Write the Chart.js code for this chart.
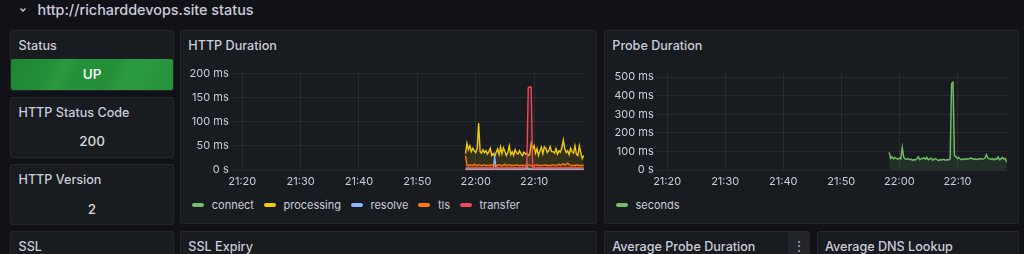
<!DOCTYPE html>
<html><head><meta charset="utf-8">
<script src="https://cdn.jsdelivr.net/npm/chart.js@4.4.1/dist/chart.umd.min.js"></script>
<style>
html,body{margin:0;padding:0;background:#111217;width:1024px;height:254px;overflow:hidden;font-family:Inter,"Open Sans",sans-serif;color:#ccccdc;}
.p{position:absolute;background:#181b1f;border:1px solid #25272c;border-radius:2px;box-sizing:border-box;}
.t{position:absolute;font-size:12.6px;font-weight:500;line-height:16px;white-space:nowrap;color:#ccccdc;}
.v{position:absolute;font-size:13.5px;font-weight:500;line-height:18px;text-align:center;white-space:nowrap;color:#d8d9da;}
canvas{position:absolute;}
.lg{position:absolute;display:flex;align-items:center;height:14px;font-size:11px;color:#ccccdc;white-space:nowrap;}
.lg span.m{display:inline-block;width:12px;height:4px;border-radius:2px;margin-right:7.5px;}
.lg span.x{margin-right:10px;}
</style></head>
<body>
<!-- header -->
<svg style="position:absolute;left:19px;top:6px" width="8" height="8"><polyline points="1.5,2.5 4,5 6.5,2.5" fill="none" stroke="#ccccdc" stroke-width="1.3"/></svg>
<div class="t" style="left:37.5px;top:-0.2px;font-size:14.4px;line-height:20px;">http://richarddevops.site status</div>

<!-- left column -->
<div class="p" style="left:10px;top:30px;width:164px;height:61px;"></div>
<div class="t" style="left:18.5px;top:37.7px;">Status</div>
<div style="position:absolute;left:11px;top:59px;width:162px;height:30.5px;border-radius:2px;background:linear-gradient(115deg,#1e8532 0%,#23903a 25%,#2a9a40 32%,#23903a 40%,#248f38 60%,#2b9b41 70%,#25923a 100%);"></div>
<div class="v" style="left:11px;top:64.5px;width:162px;color:#ffffff;">UP</div>

<div class="p" style="left:10px;top:97px;width:164px;height:61px;"></div>
<div class="t" style="left:18.5px;top:104.7px;">HTTP Status Code</div>
<div class="v" style="left:11px;top:131.8px;width:162px;">200</div>

<div class="p" style="left:10px;top:164px;width:164px;height:61px;"></div>
<div class="t" style="left:18.5px;top:171.7px;">HTTP Version</div>
<div class="v" style="left:11px;top:199.5px;width:162px;">2</div>

<div class="p" style="left:10px;top:231px;width:164px;height:40px;"></div>
<div class="t" style="left:18.5px;top:238.7px;">SSL</div>

<!-- HTTP Duration -->
<div class="p" style="left:180px;top:30px;width:417px;height:194px;"></div>
<div class="t" style="left:188.3px;top:37.7px;">HTTP Duration</div>
<canvas id="c1" width="410" height="134" style="left:181px;top:58px;width:410px;height:134px;"></canvas>
<div class="lg" style="left:192.3px;top:197.5px;">
 <span class="m" style="background:#73BF69"></span><span class="x">connect</span>
 <span class="m" style="background:#F2CC0C"></span><span class="x">processing</span>
 <span class="m" style="background:#8AB8FF"></span><span class="x">resolve</span>
 <span class="m" style="background:#FF780A"></span><span class="x">tls</span>
 <span class="m" style="background:#F2495C"></span><span class="x">transfer</span>
</div>

<!-- Probe Duration -->
<div class="p" style="left:604px;top:30px;width:415px;height:194px;"></div>
<div class="t" style="left:612.3px;top:37.7px;">Probe Duration</div>
<canvas id="c2" width="410" height="134" style="left:605px;top:58px;width:410px;height:134px;"></canvas>
<div class="lg" style="left:616px;top:197.5px;">
 <span class="m" style="background:#73BF69"></span><span class="x">seconds</span>
</div>

<!-- bottom row -->
<div class="p" style="left:180px;top:231px;width:417px;height:40px;"></div>
<div class="t" style="left:188.3px;top:238.7px;">SSL Expiry</div>
<div class="p" style="left:604px;top:231px;width:206px;height:40px;"></div>
<div class="t" style="left:612.3px;top:238.7px;">Average Probe Duration</div>
<div style="position:absolute;left:788px;top:232px;width:21px;height:30px;background:#22252b;"></div>
<div style="position:absolute;left:788px;top:238px;width:21px;text-align:center;font-size:14px;line-height:16px;color:#a8a9b3;">⋮</div>
<div class="p" style="left:817px;top:231px;width:202px;height:40px;"></div>
<div class="t" style="left:825px;top:238.7px;">Average DNS Lookup</div>

<script>
// ---- data (milliseconds), one sample every 15 s starting 21:58:15 ----
const startTime = '21:58:15';
const stepSeconds = 15;
const connect = [2,2,2,3,2,2,2,2,3,2, 2,2,2,2,3,2,2,2,2,2, 2,3,2,2,2,2,2,2,3,2, 2,2,2,2,2,3,2,2,2,2, 2,2,3,2,2,2,2,2,2,3, 2,2,2,2,2,2,3,2,2,2, 2,2,2,3,2,2,2,2,2,2, 3,2,2,2,2,2,2,3,2,2, 2,2];
const processing = [34,55,42,50,38,45,40,36,44,97, 38,35,42,36,40,33,38,45,30,34, 28,36,44,32,48,34,46,38,30,36, 50,32,38,30,42,35,33,40,34,30, 37,33,35,30,32,55,42,50,35,44, 30,40,47,34,48,45,36,40,48,38, 38,35,44,33,40,37,46,62,44,36, 40,32,45,38,35,50,33,30,50,36, 24,30];
const resolve = [1,1,1,1,1,1,1,1,1,1, 1,1,1,1,1,1,1,1,1,1, 28,1,1,1,1,1,1,1,1,1, 1,1,1,1,1,1,1,1,1,1, 1,1,12,1,1,1,1,1,1,1, 1,1,1,1,1,1,1,1,1,1, 1,1,1,1,1,1,1,1,1,1, 1,1,1,1,1,1,1,1,1,1, 1,1];
const tls = [30,10,9,11,10,9,12,10,9,11, 10,9,10,11,9,10,10,9,11,10, 9,10,9,11,10,9,10,12,9,10, 11,9,10,9,10,11,10,9,10,9, 10,9,10,11,10,9,10,9,10,11, 9,10,9,10,10,11,9,10,9,10, 11,10,9,10,12,10,11,13,10,12, 14,11,10,9,10,9,11,10,9,10, 9,10];
const transfer = [5,4,5,4,5,4,5,5,4,5, 4,5,4,5,4,5,4,5,4,5, 4,5,4,5,4,5,4,5,4,5, 4,5,4,5,4,5,4,5,4,5, 4,5,6,170,172,171,4,5,4,5, 4,5,4,5,4,5,4,5,4,5, 4,5,4,5,4,5,4,5,4,5, 4,5,4,5,4,5,4,5,4,5, 4,5];
const probeSeconds = [95,62,72,60,68,62,58,64,60,122, 70,60,58,62,55,58,52,56,54,60, 72,55,60,62,66,58,68,55,60,64, 52,58,62,55,50,56,53,58,55,52, 56,54,60,465,472,78,72,62,68,58, 55,60,56,62,58,60,64,62,58,60, 56,58,60,62,58,60,64,82,66,60, 58,62,55,60,58,70,55,60,68,58, 62,42];

const xTickLabels = ['21:20','21:30','21:40','21:50','22:00','22:10'];
const httpYTicks = [0,50,100,150,200];
const httpYTickLabels = ['0 s','50 ms','100 ms','150 ms','200 ms'];
const probeYTicks = [0,100,200,300,400,500];
const probeYTickLabels = ['0 s','100 ms','200 ms','300 ms','400 ms','500 ms'];
const rangeStart = '21:18:12';
const rangeEnd = '22:18:36';

// ---- helpers ----
function toMin(s){const p=s.split(':').map(Number);return p[0]*60+p[1]+(p[2]||0)/60;}
const t0 = toMin(startTime);
const xs = processing.map((_,i)=>t0+i*stepSeconds/60);
const xTickVals = xTickLabels.map(toMin);
function pts(arr){return arr.map((v,i)=>({x:xs[i],y:v}));}
function rgba(hex,a){const n=parseInt(hex.slice(1),16);return `rgba(${n>>16},${(n>>8)&255},${n&255},${a})`;}
function ds(label,arr,color,order){return {label,data:pts(arr),borderColor:color,backgroundColor:rgba(color,0.13),fill:'origin',borderWidth:1.4,pointRadius:0,tension:0,order};}

const tickFont={family:'Inter',size:11};
const gridColor='rgba(240,250,255,0.07)';
function opts(yMax,yTicks,yLabels,yWidth,padRight){
 return {responsive:false,animation:false,devicePixelRatio:1,
  layout:{padding:{top:15.3,right:padRight,bottom:2,left:0}},
  plugins:{legend:{display:false},tooltip:{enabled:false}},
  scales:{
   x:{type:'linear',min:toMin(rangeStart),max:toMin(rangeEnd),
      afterBuildTicks:a=>{a.ticks=xTickVals.map(v=>({value:v}));},
      afterFit:a=>{a.height=20;},
      ticks:{callback:(v,i)=>xTickLabels[i],color:'#ccccdc',font:tickFont,padding:5,maxRotation:0,autoSkip:false},
      grid:{color:gridColor,drawTicks:false},border:{display:false}},
   y:{min:0,max:yMax,
      afterBuildTicks:a=>{a.ticks=yTicks.map(v=>({value:v}));},
      afterFit:a=>{a.width=yWidth;},
      ticks:{callback:(v,i)=>yLabels[i],color:'#ccccdc',font:tickFont,padding:3},
      grid:{color:gridColor,drawTicks:false},border:{display:false}}
  }};
}

new Chart(document.getElementById('c1'),{type:'line',
 data:{datasets:[
  ds('connect',connect,'#73BF69',4),
  ds('processing',processing,'#F2CC0C',3),
  ds('resolve',resolve,'#8AB8FF',2),
  ds('tls',tls,'#FF780A',1),
  ds('transfer',transfer,'#F2495C',0)]},
 options:opts(200,httpYTicks,httpYTickLabels,50.7,6.7)});

new Chart(document.getElementById('c2'),{type:'line',
 data:{datasets:[ds('seconds',probeSeconds,'#73BF69',0)]},
 options:opts(520,probeYTicks,probeYTickLabels,51.7,7.7)});
</script>
</body></html>
